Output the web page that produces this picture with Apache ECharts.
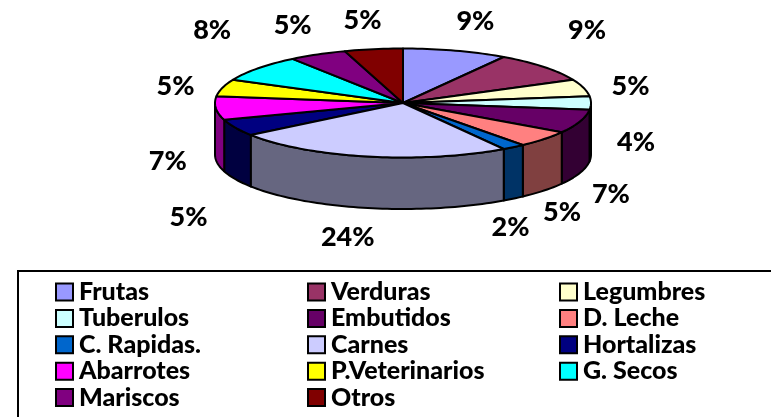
<!DOCTYPE html>
<html>
<head>
<meta charset="utf-8">
<style>html,body{margin:0;padding:0;background:#fff}#c{width:771px;height:417px}</style>
<script src="https://cdn.jsdelivr.net/npm/echarts@6/dist/echarts.min.js"></script>
</head>
<body>
<div id="c"></div>
<script>
const categories = ['Frutas','Verduras','Legumbres','Tuberulos','Embutidos','D. Leche','C. Rapidas.','Carnes','Hortalizas','Abarrotes','P.Veterinarios','G. Secos','Mariscos','Otros'];
const values = [9,9,5,4,7,5,2,24,5,7,5,8,5,5];
const colors = ['#9999FF','#993366','#FFFFCC','#CCFFFF','#660066','#FF8080','#0066CC','#CCCCFF','#000080','#FF00FF','#FFFF00','#00FFFF','#800080','#800000'];
const sideColors = ['#4D4D80','#4D1A33','#808066','#668080','#330033','#804040','#003366','#666680','#000040','#800080','#808000','#008080','#400040','#400000'];
const labelNudges = [[20,-29],[43,-37],[47,-1],[45,39],[31,73],[18,73],[-3,80],[-20,81],[-47,90],[-48,53],[-47,-1],[-46,-38],[-25,-29],[-11,-29]];

const PIE = {cx:403, cy:103, rx:188, ry:54.5, depth:51.5};
const FONT = 'Lato, "Open Sans", sans-serif';
const total = values.reduce((a,b)=>a+b,0);
const toDeg = v => v/total*360;
const starts = [];
values.reduce((acc,v,i)=>{starts[i]=acc;return acc+v;},0);

function pt(deg, dy){
  const r = deg*Math.PI/180;
  return [PIE.cx+PIE.rx*Math.sin(r), PIE.cy-PIE.ry*Math.cos(r)+(dy||0)];
}
function arc(a,b,dy){
  const out=[]; const n=Math.max(2,Math.ceil(Math.abs(b-a)/1.5));
  for(let k=0;k<=n;k++) out.push(pt(a+(b-a)*k/n,dy));
  return out;
}
function renderSlice(i){
  const a=toDeg(starts[i]), b=a+toDeg(values[i]), mid=(a+b)/2;
  const kids=[];
  const sa=Math.max(a,90), sb=Math.min(b,270);
  if(sb>sa){
    const top=arc(sa,sb,0), bottom=arc(sb,sa,PIE.depth);
    kids.push({type:'polygon',shape:{points:top.concat(bottom)},
      style:{fill:sideColors[i],stroke:'#000',lineWidth:2,lineJoin:'round'}});
  }
  kids.push({type:'polygon',shape:{points:[[PIE.cx,PIE.cy]].concat(arc(a,b,0))},
    style:{fill:colors[i],stroke:'#000',lineWidth:2,lineJoin:'round'},z2:5});
  const anchor=pt(mid,0), nudge=labelNudges[i];
  kids.push({type:'text',x:anchor[0]+nudge[0],y:anchor[1]+nudge[1],z2:10,
    style:{text:values[i]+'%',fill:'#000',font:'900 27px '+FONT,align:'center',verticalAlign:'middle'}});
  return {type:'group',children:kids};
}
const series = categories.map((name,i)=>({
  type:'custom',name:name,coordinateSystem:'none',silent:true,animation:false,
  itemStyle:{color:colors[i]},z:i<8?3:2,
  data:[[values[i]]],
  renderItem:()=>renderSlice(i)
}));
const legendCols=[[0,3,6,9,12],[1,4,7,10,13],[2,5,8,11]];
const legendLeft=[55,307,559];
const legends=legendCols.map((col,c)=>({
  orient:'vertical',left:legendLeft[c],top:279,height:138,padding:0,itemGap:0.4,itemWidth:17,itemHeight:17,
  selectedMode:false,icon:'rect',
  itemStyle:{borderColor:'#000',borderWidth:2},
  textStyle:{fontFamily:FONT,fontWeight:900,fontSize:25,color:'#000',lineHeight:26,padding:[0,0,0,1]},
  data:col.map(k=>categories[k])
}));
const chart=echarts.init(document.getElementById('c'),null,{renderer:'canvas'});
chart.setOption({
  animation:false,backgroundColor:'#fff',
  legend:legends,
  graphic:[{type:'rect',shape:{x:18,y:271,width:800,height:200},style:{fill:'none',stroke:'#000',lineWidth:2},silent:true}],
  series:series
});
</script>
</body>
</html>
